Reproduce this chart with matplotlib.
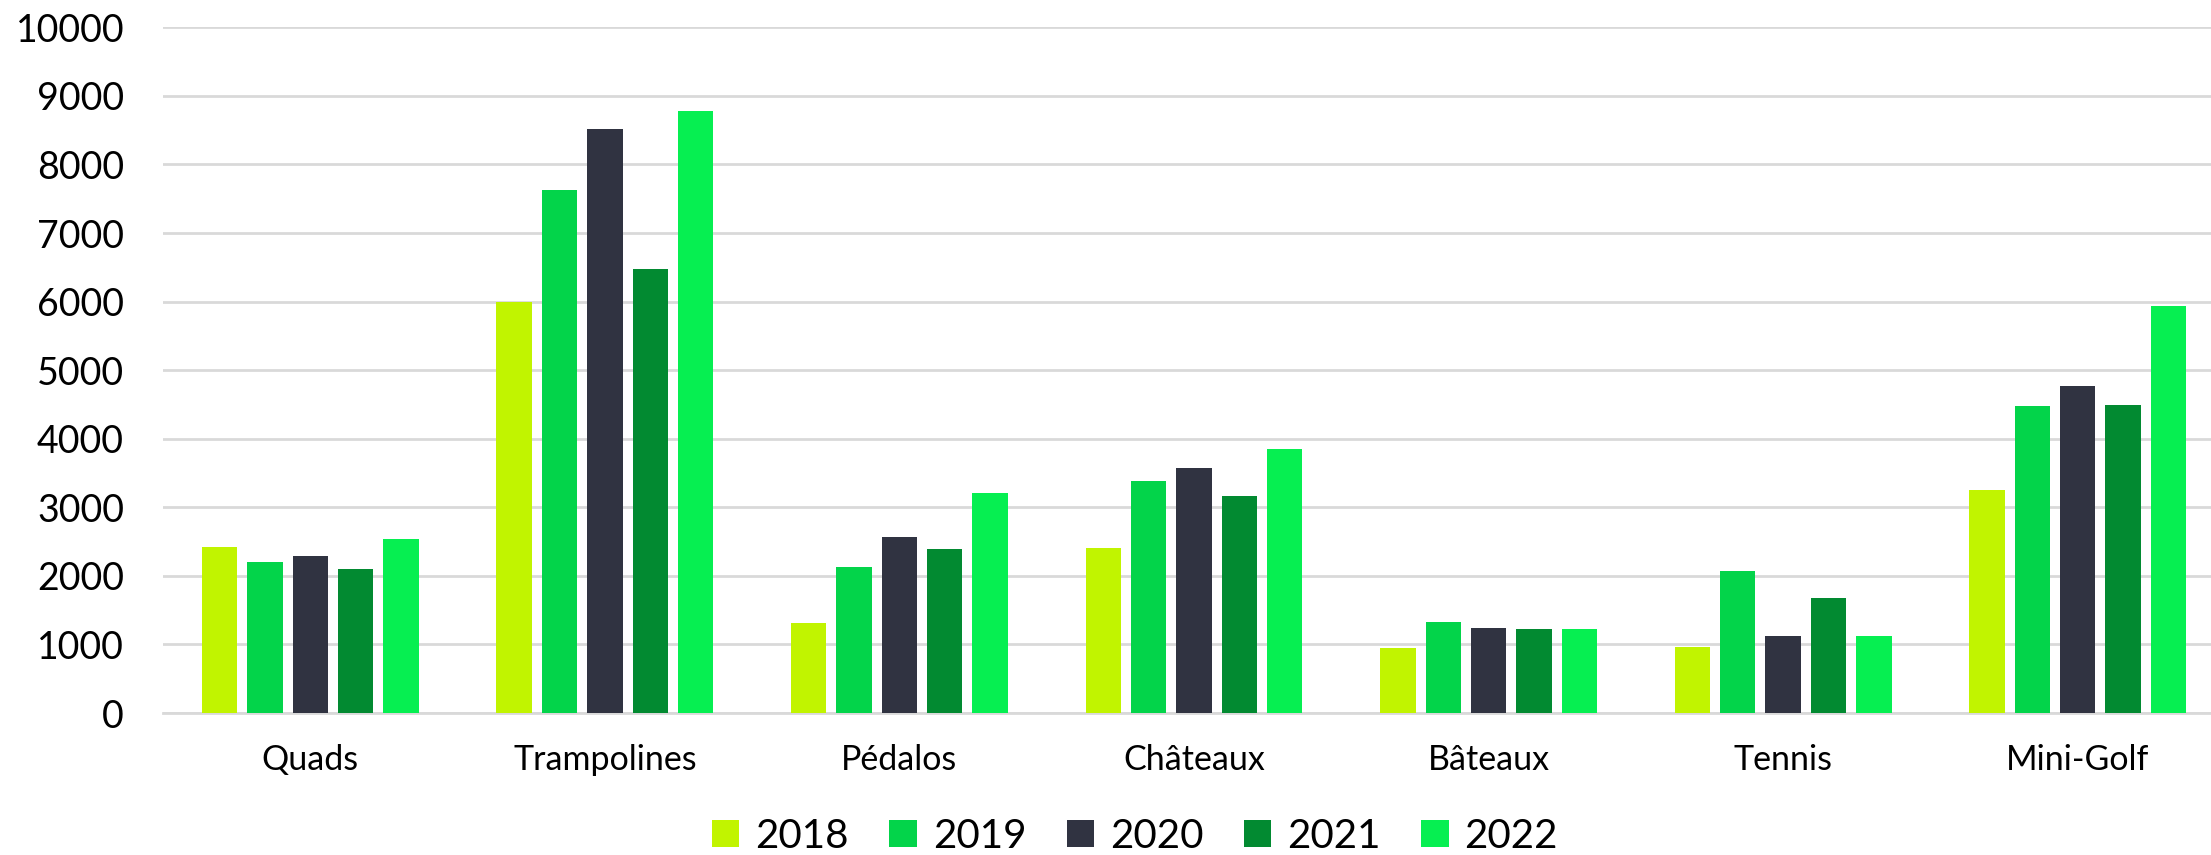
import numpy as np
from matplotlib import pyplot as plt

plt.rcParams['font.family'] = ['Lato', 'DejaVu Sans']

categories = ['Quads', 'Trampolines', 'Pédalos', 'Châteaux', 'Bâteaux', 'Tennis', 'Mini-Golf']
years = ['2018', '2019', '2020', '2021', '2022']
v2018 = [2425, 5990, 1310, 2410, 950, 960, 3250]
v2019 = [2200, 7620, 2130, 3390, 1330, 2065, 4470]
v2020 = [2285, 8510, 2570, 3580, 1245, 1120, 4770]
v2021 = [2095, 6480, 2390, 3165, 1230, 1670, 4490]
v2022 = [2535, 8785, 3215, 3845, 1230, 1130, 5930]
colors = ['#C1F400', '#03D44A', '#303341', '#028A31', '#06EF51']

series = [v2018, v2019, v2020, v2021, v2022]

fig = plt.figure(figsize=(22.11, 8.55), dpi=100)
# plot area in pixels: x 163 -> 2225, y 27.3 -> 713
ax = fig.add_axes([163 / 2211, 1 - 713 / 855, 2062 / 2211, (713 - 27.3) / 855])

x = np.arange(len(categories))
step = 0.154
width = 0.12
for i, (vals, col, yr) in enumerate(zip(series, colors, years)):
    ax.bar(x + (i - 2) * step, vals, width=width, color=col, label=yr, zorder=3)

ax.set_xlim(-0.5, len(categories) - 0.5)
ax.set_ylim(0, 10000)
ax.set_yticks(np.arange(0, 10001, 1000))
ax.yaxis.grid(True, color='#D9D9D9', linewidth=2, zorder=0)
ax.set_axisbelow(True)
for s in ['top', 'right', 'left']:
    ax.spines[s].set_visible(False)
ax.spines['bottom'].set_color('#D9D9D9')
ax.spines['bottom'].set_linewidth(2)
ax.tick_params(axis='y', length=0, labelsize=27, pad=28)
ax.tick_params(axis='x', length=0, labelsize=24.5, pad=22)
ax.set_xticks(x)
ax.set_xticklabels(categories)

fig.legend(loc='center left', bbox_to_anchor=(712 / 2211, 1 - 836 / 855), ncol=5, frameon=False,
           fontsize=29, handlelength=0.68, handleheight=0.68, handletextpad=0.4, columnspacing=1.0,
           borderpad=0, borderaxespad=0)

fig.savefig('out.png', dpi=100)
